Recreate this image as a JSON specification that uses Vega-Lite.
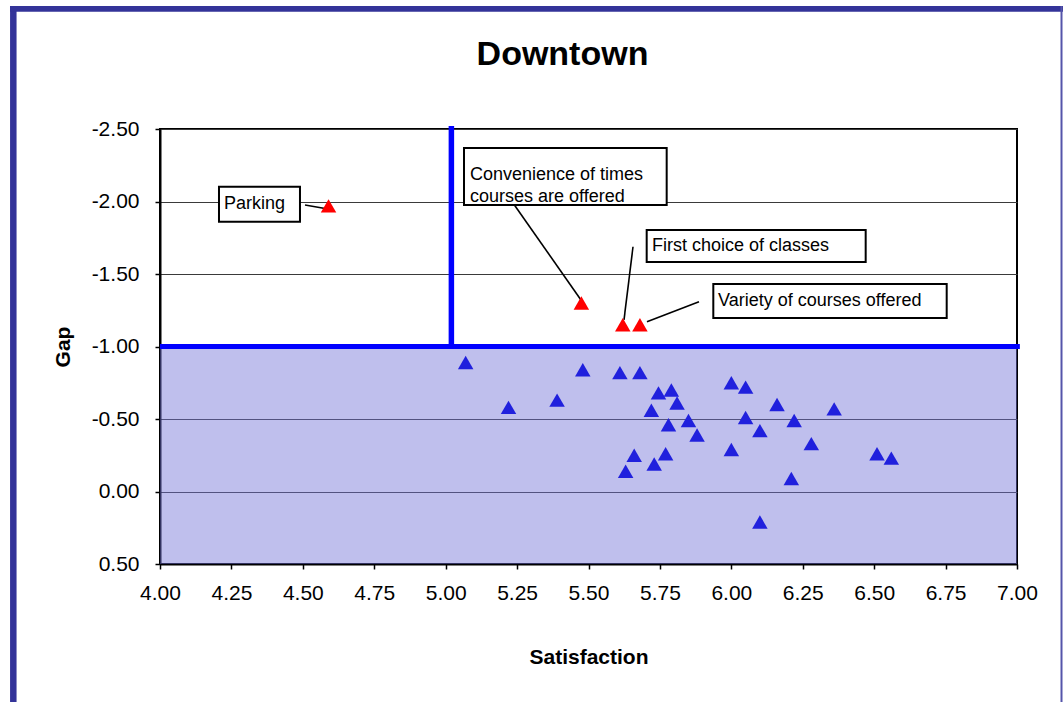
{
  "$schema": "https://vega.github.io/schema/vega-lite/v6.json",
  "autosize": {"type": "none"},
  "width": 857,
  "height": 435,
  "padding": {"left": 160, "top": 129, "right": 46, "bottom": 138},
  "background": "white",
  "title": {"text": "Downtown", "fontSize": 34, "fontWeight": "bold", "font": "Liberation Sans", "anchor": "middle", "baseline": "alphabetic", "dx": -26, "offset": 0, "dy": 96, "color": "#000"},
  "datasets": {
    "pts": [
      {"item": "Parking", "satisfaction": 4.59, "gap": -1.97, "zone": "above"},
      {"item": "Convenience of times courses are offered", "satisfaction": 5.475, "gap": -1.30, "zone": "above"},
      {"item": "First choice of classes", "satisfaction": 5.62, "gap": -1.15, "zone": "above"},
      {"item": "Variety of courses offered", "satisfaction": 5.68, "gap": -1.15, "zone": "above"},
      {"item": "b1", "satisfaction": 5.07, "gap": -0.89, "zone": "below"},
      {"item": "b2", "satisfaction": 5.22, "gap": -0.58, "zone": "below"},
      {"item": "b3", "satisfaction": 5.39, "gap": -0.63, "zone": "below"},
      {"item": "b4", "satisfaction": 5.48, "gap": -0.84, "zone": "below"},
      {"item": "b5", "satisfaction": 5.61, "gap": -0.82, "zone": "below"},
      {"item": "b6", "satisfaction": 5.68, "gap": -0.82, "zone": "below"},
      {"item": "b7", "satisfaction": 5.745, "gap": -0.68, "zone": "below"},
      {"item": "b8", "satisfaction": 5.79, "gap": -0.70, "zone": "below"},
      {"item": "b9", "satisfaction": 5.81, "gap": -0.61, "zone": "below"},
      {"item": "b10", "satisfaction": 5.72, "gap": -0.56, "zone": "below"},
      {"item": "b11", "satisfaction": 5.78, "gap": -0.46, "zone": "below"},
      {"item": "b12", "satisfaction": 5.85, "gap": -0.49, "zone": "below"},
      {"item": "b13", "satisfaction": 5.88, "gap": -0.39, "zone": "below"},
      {"item": "b14", "satisfaction": 5.66, "gap": -0.25, "zone": "below"},
      {"item": "b15", "satisfaction": 5.77, "gap": -0.26, "zone": "below"},
      {"item": "b16", "satisfaction": 5.63, "gap": -0.14, "zone": "below"},
      {"item": "b17", "satisfaction": 5.73, "gap": -0.19, "zone": "below"},
      {"item": "b18", "satisfaction": 6.00, "gap": -0.75, "zone": "below"},
      {"item": "b19", "satisfaction": 6.05, "gap": -0.72, "zone": "below"},
      {"item": "b20", "satisfaction": 6.16, "gap": -0.60, "zone": "below"},
      {"item": "b21", "satisfaction": 6.05, "gap": -0.51, "zone": "below"},
      {"item": "b22", "satisfaction": 6.10, "gap": -0.42, "zone": "below"},
      {"item": "b23", "satisfaction": 6.22, "gap": -0.49, "zone": "below"},
      {"item": "b24", "satisfaction": 6.36, "gap": -0.57, "zone": "below"},
      {"item": "b25", "satisfaction": 6.28, "gap": -0.33, "zone": "below"},
      {"item": "b26", "satisfaction": 6.00, "gap": -0.29, "zone": "below"},
      {"item": "b27", "satisfaction": 6.51, "gap": -0.26, "zone": "below"},
      {"item": "b28", "satisfaction": 6.56, "gap": -0.23, "zone": "below"},
      {"item": "b29", "satisfaction": 6.21, "gap": -0.09, "zone": "below"},
      {"item": "b30", "satisfaction": 6.10, "gap": 0.21, "zone": "below"}
    ],
    "notes": [
      {"label": "Parking", "bx1": 4.2065, "bx2": 4.490, "by1": -2.102, "by2": -1.861, "tx": 4.224, "ty": -1.983, "lx1": 4.5076, "ly1": -1.976, "lx2": 4.588, "ly2": -1.948},
      {"label": "Convenience of times\ncourses are offered", "bx1": 5.0642, "bx2": 5.7737, "by1": -2.369, "by2": -1.976, "tx": 5.085, "ty": -2.183, "lx1": 5.2357, "ly1": -1.990, "lx2": 5.4737, "ly2": -1.321},
      {"label": "First choice of classes", "bx1": 5.7037, "bx2": 6.4703, "by1": -1.803, "by2": -1.583, "tx": 5.7222, "ty": -1.693, "lx1": 5.6558, "ly1": -1.688, "lx2": 5.6243, "ly2": -1.183},
      {"label": "Variety of courses offered", "bx1": 5.9369, "bx2": 6.7539, "by1": -1.431, "by2": -1.197, "tx": 5.9537, "ty": -1.314, "lx1": 5.8868, "ly1": -1.309, "lx2": 5.7047, "ly2": -1.171}
    ]
  },
  "layer": [
    {
      "data": {"values": [{}]},
      "mark": {"type": "rule", "color": "#333399", "strokeWidth": 6.5, "clip": false},
      "encoding": {
        "x": {"datum": 3.4865, "type": "quantitative", "title": "Satisfaction"},
        "y": {"datum": -3.3483, "type": "quantitative", "title": "Gap"},
        "y2": {"datum": 1.462}
      }
    },
    {
      "data": {"values": [{}]},
      "mark": {"type": "rule", "color": "#333399", "strokeWidth": 5.7, "clip": false},
      "encoding": {
        "x": {"datum": 3.4749, "type": "quantitative", "title": "Satisfaction"},
        "x2": {"datum": 7.161},
        "y": {"datum": -3.329, "type": "quantitative", "title": "Gap"}
      }
    },
    {
      "data": {"values": [{}]},
      "mark": {"type": "rule", "color": "#5555aa", "strokeWidth": 2, "clip": false},
      "encoding": {
        "x": {"datum": 7.1558, "type": "quantitative", "title": "Satisfaction"},
        "y": {"datum": -3.3483, "type": "quantitative", "title": "Gap"},
        "y2": {"datum": 1.462}
      }
    },
    {
      "data": {"values": [{}]},
      "mark": {"type": "rect", "fill": "#7272d6", "opacity": 0.45, "clip": false},
      "encoding": {
        "x": {"datum": 4, "type": "quantitative", "title": "Satisfaction"},
        "x2": {"datum": 7},
        "y": {"datum": -1.0, "type": "quantitative", "title": "Gap"},
        "y2": {"datum": 0.5}
      }
    },
    {
      "data": {"values": [{}]},
      "mark": {"type": "rule", "color": "#0000ff", "strokeWidth": 5, "clip": false},
      "encoding": {
        "x": {"datum": 4, "type": "quantitative", "title": "Satisfaction"},
        "x2": {"datum": 7.01},
        "y": {"datum": -1.0, "type": "quantitative", "title": "Gap"}
      }
    },
    {
      "data": {"values": [{}]},
      "mark": {"type": "rule", "color": "#0000ff", "strokeWidth": 5.5, "clip": false},
      "encoding": {
        "x": {"datum": 5.02, "type": "quantitative", "title": "Satisfaction"},
        "y": {"datum": -2.52, "type": "quantitative", "title": "Gap"},
        "y2": {"datum": -1.0}
      }
    },
    {
      "data": {"name": "notes"},
      "mark": {"type": "rule", "color": "#000", "strokeWidth": 1.6},
      "encoding": {
        "x": {"field": "lx1", "type": "quantitative", "title": "Satisfaction"},
        "x2": {"field": "lx2"},
        "y": {"field": "ly1", "type": "quantitative", "title": "Gap"},
        "y2": {"field": "ly2"}
      }
    },
    {
      "data": {"name": "notes"},
      "mark": {"type": "rect", "fill": "white", "stroke": "#000", "strokeWidth": 2},
      "encoding": {
        "x": {"field": "bx1", "type": "quantitative", "title": "Satisfaction"},
        "x2": {"field": "bx2"},
        "y": {"field": "by1", "type": "quantitative", "title": "Gap"},
        "y2": {"field": "by2"}
      }
    },
    {
      "data": {"name": "notes"},
      "mark": {"type": "text", "align": "left", "baseline": "middle", "font": "Liberation Sans", "fontSize": 18, "lineHeight": 22, "lineBreak": "\n", "color": "#000"},
      "encoding": {
        "x": {"field": "tx", "type": "quantitative", "title": "Satisfaction"},
        "y": {"field": "ty", "type": "quantitative", "title": "Gap"},
        "text": {"field": "label"}
      }
    },
    {
      "data": {"name": "pts"},
      "mark": {"type": "point", "shape": "triangle-up", "filled": true, "size": 240, "opacity": 1},
      "encoding": {
        "x": {
          "field": "satisfaction", "type": "quantitative", "title": "Satisfaction",
          "scale": {"domain": [4, 7], "nice": false, "zero": false},
          "axis": {"values": [4, 4.25, 4.5, 4.75, 5, 5.25, 5.5, 5.75, 6, 6.25, 6.5, 6.75, 7], "format": ".2f", "grid": false, "labelFlush": false, "labelOverlap": false, "labelPadding": 13, "titlePadding": 43}
        },
        "y": {
          "field": "gap", "type": "quantitative", "title": "Gap",
          "scale": {"domain": [-2.5, 0.5], "nice": false, "zero": false, "reverse": true},
          "axis": {"values": [-2.5, -2.25, -2, -1.75, -1.5, -1.25, -1, -0.75, -0.5, -0.25, 0, 0.25, 0.5], "labelExpr": "replace(format(datum.value, '.2f'), '−', '-')", "grid": true, "gridColor": "#3a3a3a", "gridWidth": 1.2, "labelFlush": false, "labelOverlap": false, "labelPadding": 16, "titlePadding": 18}
        },
        "color": {"field": "zone", "type": "nominal", "scale": {"domain": ["above", "below"], "range": ["#ff0000", "#2020dd"]}, "legend": null}
      }
    }
  ],
  "config": {
    "view": {"stroke": "#000", "strokeWidth": 2},
    "font": "Liberation Sans",
    "axis": {"labelFont": "Liberation Sans", "labelFontSize": 21, "labelColor": "#000", "titleFont": "Liberation Sans", "titleFontSize": 21, "titleFontWeight": "bold", "titleColor": "#000", "domainColor": "#000", "domainWidth": 2, "tickColor": "#000", "tickWidth": 1.5, "tickSize": 5}
  }
}
